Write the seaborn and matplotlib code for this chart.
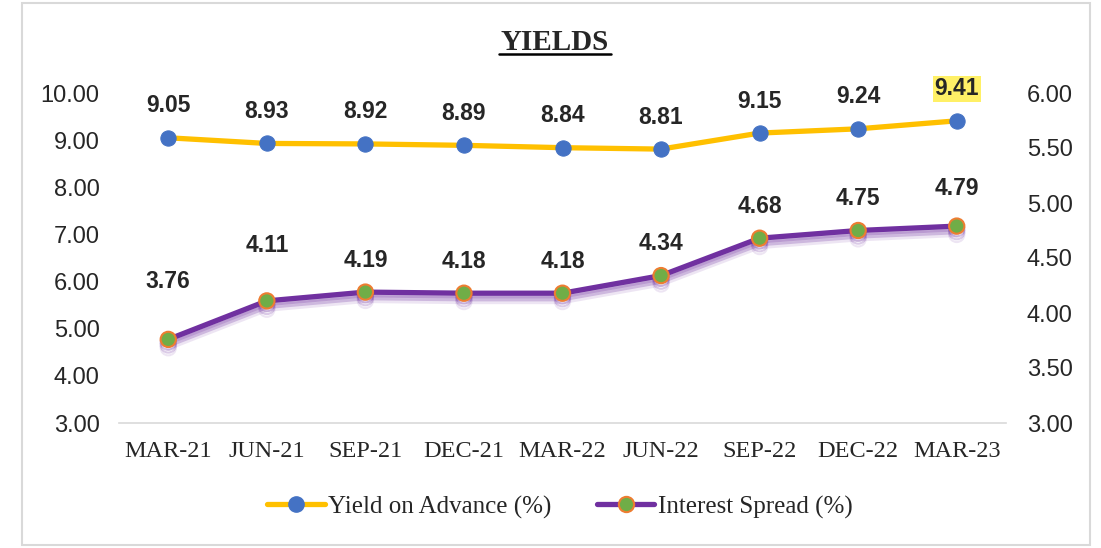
import numpy as np
import pandas as pd
import matplotlib
matplotlib.use("Agg")
import matplotlib.pyplot as plt
import matplotlib.patheffects as pe
from matplotlib.lines import Line2D
from matplotlib.patches import Rectangle
import seaborn as sns

quarters = ["MAR-21", "JUN-21", "SEP-21", "DEC-21", "MAR-22", "JUN-22", "SEP-22", "DEC-22", "MAR-23"]
yield_on_advance = [9.05, 8.93, 8.92, 8.89, 8.84, 8.81, 9.15, 9.24, 9.41]
interest_spread = [3.76, 4.11, 4.19, 4.18, 4.18, 4.34, 4.68, 4.75, 4.79]
left_ticks = [3, 4, 5, 6, 7, 8, 9, 10]
right_ticks = [3.0, 3.5, 4.0, 4.5, 5.0, 5.5, 6.0]

sns.set_theme(style="white")
plt.rcParams["font.family"] = ["Liberation Sans", "DejaVu Sans"]

YELLOW = "#FFC000"
BLUE = "#4472C4"
PURPLE = "#7030A0"
GREEN = "#70AD47"
ORANGE = "#ED7D31"

df = pd.DataFrame({"x": np.arange(len(quarters)), "q": quarters,
                   "yoa": yield_on_advance, "spread": interest_spread})

fig = plt.figure(figsize=(11.01, 5.48), dpi=100)
ax = fig.add_axes([119 / 1101, 1 - 423 / 548, (1006 - 119) / 1101, (423 - 93) / 548])
ax2 = ax.twinx()

# figure border
fig.add_artist(Rectangle((22 / 1101, 1 - 545 / 548), (1090 - 22) / 1101, (545 - 3) / 548,
                         transform=fig.transFigure, fill=False, edgecolor="#D9D9D9", lw=1.5))

sns.lineplot(data=df, x="x", y="yoa", ax=ax, color=YELLOW, lw=3.8, marker="o",
             markersize=11, markerfacecolor=BLUE, markeredgecolor=BLUE, zorder=3, legend=False)

shadow = [pe.SimpleLineShadow(offset=(0, -2), shadow_color=PURPLE, alpha=0.3),
          pe.SimpleLineShadow(offset=(0, -4), shadow_color=PURPLE, alpha=0.25),
          pe.SimpleLineShadow(offset=(0, -6), shadow_color=PURPLE, alpha=0.12),
          pe.Normal()]
sns.lineplot(data=df, x="x", y="spread", ax=ax2, color=PURPLE, lw=3.8, marker="o",
             markersize=11, markerfacecolor=GREEN, markeredgecolor=ORANGE, markeredgewidth=1.5,
             zorder=3, legend=False)
for ln in ax2.get_lines():
    ln.set_path_effects(shadow)

ax.set_ylim(3, 10)
ax2.set_ylim(3, 6)
ax.set_xlim(-0.5, len(quarters) - 0.5)
ax.set_yticks(left_ticks)
ax.set_yticklabels([f"{v:.2f}" for v in left_ticks], fontsize=17)
ax2.set_yticks(right_ticks)
ax2.set_yticklabels([f"{v:.2f}" for v in right_ticks], fontsize=17)
ax.set_xticks(df["x"])
ax.set_xticklabels(quarters, fontsize=17.5, family="Liberation Serif")
ax.tick_params(axis="y", length=0, pad=14)
ax2.tick_params(axis="y", length=0, pad=15)
ax.tick_params(axis="x", length=0, pad=13)
ax.set_xlabel("")
ax.set_ylabel("")
ax2.set_ylabel("")
for a in (ax, ax2):
    for s in ("top", "left", "right"):
        a.spines[s].set_visible(False)
    a.spines["bottom"].set_color("#D9D9D9")
    a.spines["bottom"].set_linewidth(1.2)
    a.patch.set_alpha(0)
ax2.spines["bottom"].set_visible(False)

# data labels
for i, v in enumerate(yield_on_advance):
    kw = {}
    if i == len(yield_on_advance) - 1:
        kw["bbox"] = dict(boxstyle="square,pad=0.08", facecolor="#FFF066", edgecolor="none")
    ax.annotate(f"{v:.2f}", (i, v), xytext=(0, 23), textcoords="offset points",
                ha="center", va="center", fontsize=16.5, fontweight="bold", **kw)
spread_label_offsets = [42, 40, 23, 23, 23, 23, 23, 23, 27]
for i, v in enumerate(interest_spread):
    ax2.annotate(f"{v:.2f}", (i, v), xytext=(0, spread_label_offsets[i]), textcoords="offset points",
                 ha="center", va="center", fontsize=16.5, fontweight="bold")

# title
fig.text(555 / 1101, 1 - 42 / 548, "YIELDS", ha="center", va="center", fontsize=21,
         fontweight="bold", family="Liberation Serif")
fig.add_artist(Line2D([499 / 1101, 611 / 1101], [1 - 54 / 548, 1 - 54 / 548],
                      transform=fig.transFigure, color="black", lw=1.8))

# legend
handles = [Line2D([], [], color=YELLOW, lw=3.8, marker="o", markersize=11,
                  markerfacecolor=BLUE, markeredgecolor=BLUE),
           Line2D([], [], color=PURPLE, lw=3.8, marker="o", markersize=11,
                  markerfacecolor=GREEN, markeredgecolor=ORANGE, markeredgewidth=1.5)]
fig.legend(handles, ["Yield on Advance (%)", "Interest Spread (%)"], loc="center",
           bbox_to_anchor=(560 / 1101, 1 - 507 / 548), ncol=2, frameon=False,
           prop={"family": "Liberation Serif", "size": 18}, handlelength=2.3,
           handletextpad=0.15, columnspacing=1.8)

fig.savefig("out.png", dpi=100)
